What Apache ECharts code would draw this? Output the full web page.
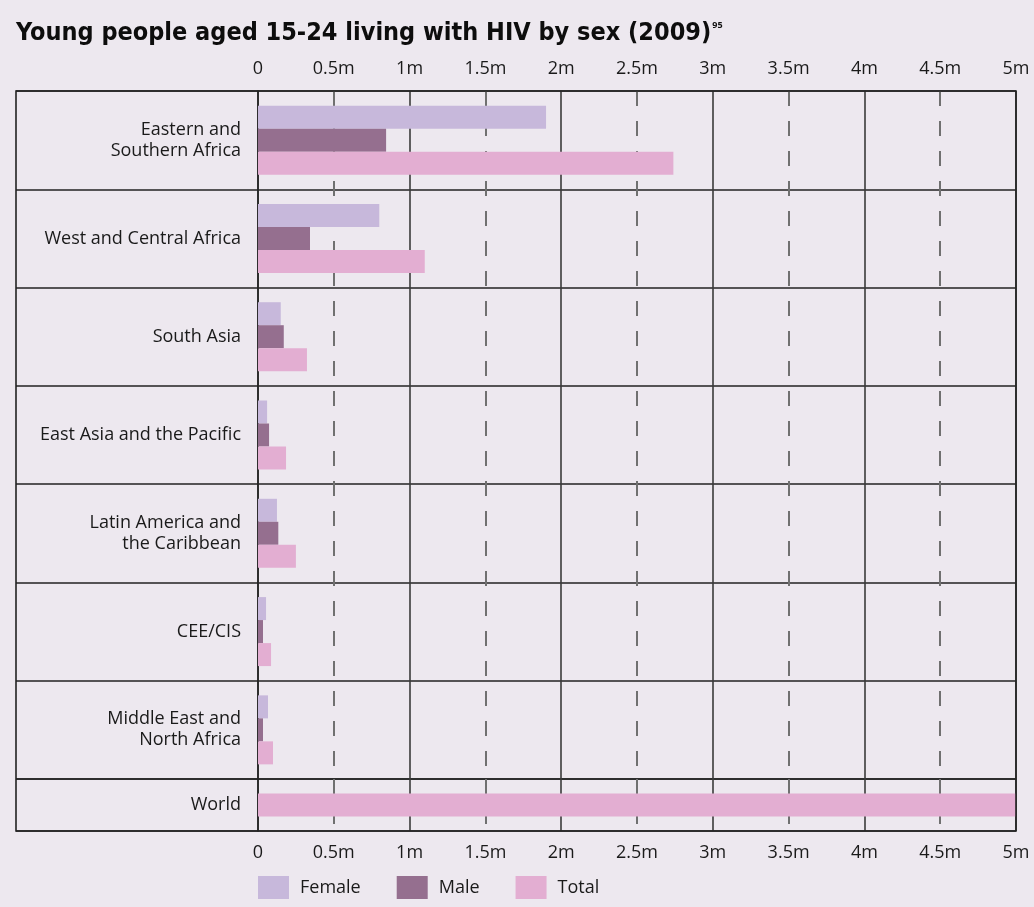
<!DOCTYPE html>
<html>
<head>
<meta charset="utf-8">
<style>
  html, body { margin: 0; padding: 0; background: #ede8ef; }
  #chart { width: 1034px; height: 907px; }
</style>
<script src="https://cdn.jsdelivr.net/npm/echarts@6/dist/echarts.min.js"></script>
</head>
<body>
<div id="chart"></div>
<script>
// Young people aged 15-24 living with HIV, 2009 (millions)
const regions = [
  'Eastern and\nSouthern Africa',
  'West and Central Africa',
  'South Asia',
  'East Asia and the Pacific',
  'Latin America and\nthe Caribbean',
  'CEE/CIS',
  'Middle East and\nNorth Africa'
];
const female = [1.90, 0.80, 0.15, 0.06, 0.125, 0.053, 0.066];
const male   = [0.845, 0.343, 0.17, 0.073, 0.134, 0.033, 0.033];
const total  = [2.74, 1.10, 0.323, 0.185, 0.25, 0.086, 0.099];
const worldLabel = ['World'];
const worldTotal = [5.0];
const tickStep = 0.5;
const axisMax = 5;

const FONT = "'Open Sans', 'Noto Sans', sans-serif";
const COLORS = { Female: '#c7b8db', Male: '#956f8f', Total: '#e3aed2' };
const fmt = v => (v === 0 ? '0' : v + 'm');

const chart = echarts.init(document.getElementById('chart'), null, { renderer: 'canvas' });

// labelled value axis (every 0.5m)
function labelAxis(gridIndex, position) {
  return {
    type: 'value', gridIndex, position, min: 0, max: axisMax, interval: tickStep,
    axisLine: { show: false }, axisTick: { show: false }, splitLine: { show: false },
    axisLabel: { formatter: fmt, color: '#1a1a1a', fontFamily: FONT, fontSize: 18, margin: 13 }
  };
}
// grid axis: solid line every 1m, dashed every 0.5m
function gridAxis(gridIndex, position) {
  return {
    type: 'value', gridIndex, position, min: 0, max: axisMax, interval: 1,
    axisLine: { show: false }, axisTick: { show: false }, axisLabel: { show: false },
    splitLine: { show: true, lineStyle: { color: '#3a3a3a', width: 1.6 } },
    minorTick: { show: false, splitNumber: 2 },
    minorSplitLine: { show: true, lineStyle: { color: '#707070', width: 2, type: [15, 15] } }
  };
}
// region axis; long ticks carry the row separators across the label column
function catAxis(gridIndex, data) {
  return {
    type: 'category', gridIndex, data, inverse: true,
    axisLine: { show: true, lineStyle: { color: '#222', width: 1.6 } },
    axisTick: { show: true, length: 242, lineStyle: { color: '#222', width: 1.6 } },
    splitLine: { show: true, lineStyle: { color: '#222', width: 1.6 } },
    axisLabel: { color: '#1a1a1a', fontFamily: FONT, fontSize: 18, margin: 17, lineHeight: 21, align: 'right' }
  };
}

const barBase = { type: 'bar', barWidth: 23, barGap: '0%', barCategoryGap: '0%', z: 3 };

chart.setOption({
  backgroundColor: '#ede8ef',
  animation: false,
  title: {
    text: '{t|Young people aged 15-24 living with HIV by sex (2009)}{s|95}',
    left: 11, top: 16,
    textStyle: {
      rich: {
        t: { fontFamily: "'DejaVu Sans Condensed', 'Liberation Sans Narrow', 'DejaVu Sans', sans-serif", fontWeight: 'bold', fontSize: 25, color: '#0d0d0d' },
        s: { fontFamily: FONT, fontSize: 9, color: '#111', verticalAlign: 'top', padding: [0, 0, 14, 1] }
      }
    }
  },
  legend: {
    data: ['Female', 'Male', 'Total'],
    left: 253, top: 871, itemWidth: 31, itemHeight: 23, itemGap: 36, icon: 'rect',
    textStyle: { color: '#1a1a1a', fontFamily: FONT, fontSize: 18, padding: [0, 0, 0, 6] }
  },
  grid: [
    { left: 258, right: 18, top: 91, height: 688 },
    { left: 258, right: 18, top: 779, height: 52 }
  ],
  xAxis: [
    labelAxis(0, 'top'), gridAxis(0, 'bottom'),
    labelAxis(1, 'bottom'), gridAxis(1, 'top')
  ],
  yAxis: [catAxis(0, regions), catAxis(1, worldLabel)],
  graphic: [{
    type: 'rect', shape: { x: 16, y: 91, width: 1000, height: 740 },
    style: { fill: 'none', stroke: '#222', lineWidth: 1.6 }, silent: true, z: 10
  }],
  series: [
    { ...barBase, name: 'Female', xAxisIndex: 0, yAxisIndex: 0, data: female, itemStyle: { color: COLORS.Female } },
    { ...barBase, name: 'Male', xAxisIndex: 0, yAxisIndex: 0, data: male, itemStyle: { color: COLORS.Male } },
    { ...barBase, name: 'Total', xAxisIndex: 0, yAxisIndex: 0, data: total, itemStyle: { color: COLORS.Total } },
    { ...barBase, name: 'Total', xAxisIndex: 2, yAxisIndex: 1, data: worldTotal, itemStyle: { color: COLORS.Total } }
  ]
});
</script>
</body>
</html>
